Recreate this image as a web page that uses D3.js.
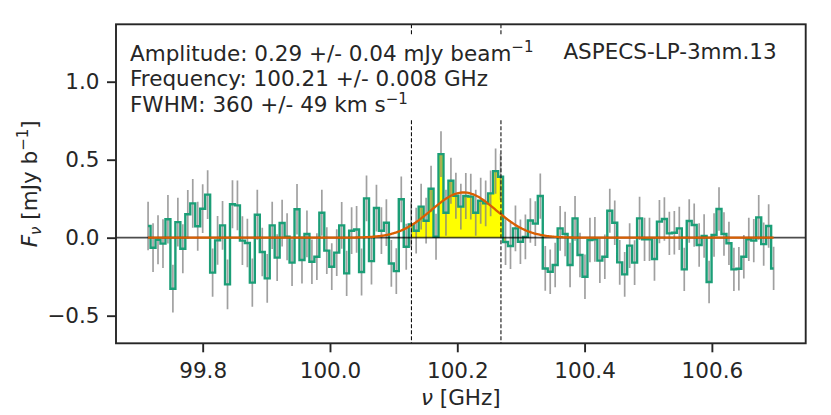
<!DOCTYPE html>
<html>
<head>
<meta charset="utf-8">
<script src="https://cdn.jsdelivr.net/npm/d3@7"></script>
<style>
	body{margin:0;background:#fff}
	text{font-family:'DejaVu Sans',sans-serif;fill:#262626}
</style>
</head>
<body>
<div class="chart"></div>
<script>
// spectrum channels (mJy/beam), 7.8 MHz channels
const chanStart=99.7142
const chanWidth=0.0078
const fluxValues=[
	0.075,-0.064,-0.013,-0.038,0.118,-0.327,0.100,-0.071,0.150,0.220,
	0.073,0.186,0.276,-0.224,-0.017,0.079,-0.299,0.214,0.207,-0.019,
	-0.034,-0.288,0.147,-0.092,-0.261,0.079,-0.128,0.094,0.006,-0.160,
	0.182,-0.143,0.024,-0.154,-0.122,0.160,-0.083,-0.186,-0.096,0.079,
	-0.229,0.045,0.053,-0.220,0.252,-0.150,0.190,0.045,0.096,-0.165,
	-0.214,0.246,-0.058,0.085,0.045,0.199,0.109,0.314,0.006,0.536,
	0.160,0.365,0.269,0.199,0.267,0.263,0.160,0.237,0.220,0.284,
	0.427,0.391,-0.028,-0.053,0.060,-0.026,0.005,0.110,0.090,0.267,
	-0.197,-0.218,-0.175,0.060,0.024,-0.175,0.124,-0.111,-0.250,-0.015,
	-0.011,-0.147,-0.122,0.173,0.096,-0.158,-0.235,-0.051,-0.160,0.124,
	-0.011,-0.011,-0.137,0.103,0.120,0.028,0.032,0.060,-0.203,0.107,
	0.081,-0.047,0.011,-0.284,0.017,0.184,0.024,-0.036,-0.203,-0.199,
	-0.122,-0.011,-0.019,0.130,-0.041,0.075,-0.197
]
const fluxErrors=[
	0.156,0.156,0.157,0.156,0.156,0.153,0.156,0.157,0.156,0.156,
	0.157,0.156,0.156,0.154,0.156,0.157,0.160,0.154,0.160,0.156,
	0.156,0.155,0.160,0.155,0.156,0.151,0.150,0.150,0.150,0.150,
	0.162,0.150,0.150,0.143,0.150,0.147,0.150,0.150,0.150,0.150,
	0.145,0.150,0.150,0.150,0.147,0.150,0.150,0.150,0.150,0.150,
	0.147,0.147,0.147,0.147,0.147,0.147,0.147,0.147,0.147,0.147,
	0.147,0.147,0.147,0.147,0.147,0.147,0.147,0.147,0.147,0.147,
	0.145,0.147,0.147,0.147,0.147,0.143,0.143,0.143,0.143,0.145,
	0.143,0.143,0.143,0.143,0.143,0.143,0.143,0.143,0.143,0.143,
	0.143,0.143,0.143,0.141,0.143,0.143,0.143,0.143,0.143,0.139,
	0.139,0.139,0.139,0.139,0.139,0.139,0.139,0.139,0.139,0.139,
	0.139,0.139,0.139,0.137,0.139,0.139,0.139,0.139,0.139,0.139,
	0.139,0.139,0.139,0.143,0.139,0.139,0.139
]
const fillChannels=[53,72]
const lineLimits=[100.128,100.2686]
// gaussian fit
const fitAmp=0.29
const fitCenter=100.21
const fitFwhmKms=360
const xTicks=[99.8,100.0,100.2,100.4,100.6]
const yTicks=[-0.5,0.0,0.5,1.0]
const xDomain=[99.6638,100.7474]
const yDomain=[-0.677,1.368]
const sourceName='ASPECS-LP-3mm.13'

const width=831,height=415
const margin=({top:24.3,right:25.3,bottom:71.7,left:116})
const innerW=width-margin.left-margin.right,
	innerH=height-margin.top-margin.bottom

const data=fluxValues.map((v,i)=>({f:chanStart+i*chanWidth,v:v,e:fluxErrors[i]}))

const svg=d3.select('.chart').append('svg')
	.attr('width',width)
	.attr('height',height)

const g=svg.append('g')
	.attr('transform','translate('+margin.left+','+margin.top+')')

const xScale=d3.scaleLinear().domain(xDomain).range([0,innerW])
const yScale=d3.scaleLinear().domain(yDomain).range([innerH,0])

g.append('clipPath').attr('id','clip')
	.append('rect').attr('width',innerW).attr('height',innerH)

const plot=g.append('g').attr('clip-path','url(#clip)')

// yellow line region
const area=d3.area()
	.curve(d3.curveStep)
	.x(d=>xScale(d.f))
	.y0(yScale(0))
	.y1(d=>yScale(d.v))
plot.append('path')
	.datum(data.slice(fillChannels[0],fillChannels[1]+1))
	.attr('d',area)
	.attr('fill','#ffff00')

// error bars
plot.selectAll('.err')
	.data(data)
	.enter()
	.append('line')
	.attr('class','err')
	.attr('x1',d=>xScale(d.f))
	.attr('x2',d=>xScale(d.f))
	.attr('y1',d=>yScale(d.v-d.e))
	.attr('y2',d=>yScale(d.v+d.e))
	.attr('stroke','#808080')
	.attr('stroke-opacity',0.75)
	.attr('stroke-width',1.7)

const stepLine=d3.line()
	.curve(d3.curveStep)
	.x(d=>xScale(d.f))
	.y(d=>yScale(d.v))
plot.append('path')
	.datum(data)
	.attr('d',stepLine)
	.attr('fill','none')
	.attr('stroke','#1b9e77')
	.attr('stroke-width',2.4)

plot.append('line')
	.attr('x1',0).attr('x2',innerW)
	.attr('y1',yScale(0)).attr('y2',yScale(0))
	.attr('stroke','#000')
	.attr('stroke-opacity',0.7)
	.attr('stroke-width',1.7)

// gaussian model from the fit parameters
const sigma=fitFwhmKms/299792.458*fitCenter/2.3548
const fLo=data[0].f,fHi=data[data.length-1].f
const model=d3.range(0,501).map(k=>{
	const f=fLo+(fHi-fLo)*k/500
	return {f:f,v:fitAmp*Math.exp(-0.5*Math.pow((f-fitCenter)/sigma,2))}
})
plot.append('path')
	.datum(model)
	.attr('d',d3.line().x(d=>xScale(d.f)).y(d=>yScale(d.v)))
	.attr('fill','none')
	.attr('stroke','#d95f02')
	.attr('stroke-width',2.3)

plot.selectAll('.vline')
	.data(lineLimits)
	.enter()
	.append('line')
	.attr('class','vline')
	.attr('x1',d=>xScale(d)).attr('x2',d=>xScale(d))
	.attr('y1',0).attr('y2',innerH)
	.attr('stroke','#111')
	.attr('stroke-width',1.1)
	.attr('stroke-dasharray','4,2')

// text box
g.append('rect')
	.attr('x',7).attr('y',11)
	.attr('width',420).attr('height',84)
	.attr('fill','#fff')

const fs=21.5
const ann=g.append('text')
	.attr('x',14)
	.attr('font-size',fs)
let t=ann.append('tspan').attr('x',14).attr('y',36.3)
t.append('tspan').text('Amplitude: 0.29 +/- 0.04 mJy beam')
t.append('tspan').attr('dy',-8.5).attr('font-size',15).text('\u22121')
t=ann.append('tspan').attr('x',14).attr('y',62)
t.text('Frequency: 100.21 +/- 0.008 GHz')
t=ann.append('tspan').attr('x',14).attr('y',87.8)
t.append('tspan').text('FWHM: 360 +/- 49 km s')
t.append('tspan').attr('dy',-8.5).attr('font-size',15).text('\u22121')

g.append('text')
	.attr('x',innerW-29)
	.attr('y',34.5)
	.attr('text-anchor','end')
	.attr('font-size',fs)
	.text(sourceName)

// axes
const xAxis=d3.axisBottom(xScale)
	.tickValues(xTicks)
	.tickFormat(d3.format('.1f'))
	.tickSize(9)
	.tickPadding(10)
const yAxis=d3.axisLeft(yScale)
	.tickValues(yTicks)
	.tickFormat(d3.format('.1f'))
	.tickSize(9)
	.tickPadding(7.5)

g.append('g')
	.attr('class','x-axis')
	.attr('transform',`translate(0,${innerH})`)
	.call(xAxis)
g.append('g')
	.attr('class','y-axis')
	.call(yAxis)

g.selectAll('.x-axis,.y-axis')
	.attr('font-family','DejaVu Sans')
	.attr('font-size',fs)
g.selectAll('.domain').remove()
g.selectAll('.tick line').attr('stroke','#262626').attr('stroke-width',1.9)
g.selectAll('.tick text').attr('fill','#262626')

g.append('rect')
	.attr('width',innerW)
	.attr('height',innerH)
	.attr('fill','none')
	.attr('stroke','#262626')
	.attr('stroke-width',1.9)

// axis titles
const xt=svg.append('text')
	.attr('x',margin.left+innerW/2)
	.attr('y',405)
	.attr('text-anchor','middle')
	.attr('font-size',fs)
xt.append('tspan').attr('font-style','italic').text('\u03bd')
xt.append('tspan').text(' [GHz]')

const yt=svg.append('text')
	.attr('transform',`translate(37,${margin.top+innerH/2}) rotate(-90)`)
	.attr('text-anchor','middle')
	.attr('font-size',fs)
yt.append('tspan').attr('font-style','italic').text('F')
yt.append('tspan').attr('font-style','italic').attr('font-size',15).attr('dy',4).text('\u03bd')
yt.append('tspan').attr('dy',-4).text(' [mJy b')
yt.append('tspan').attr('dy',-9).attr('font-size',15).text('\u22121')
yt.append('tspan').attr('dy',9).text(']')
</script>
</body>
</html>
